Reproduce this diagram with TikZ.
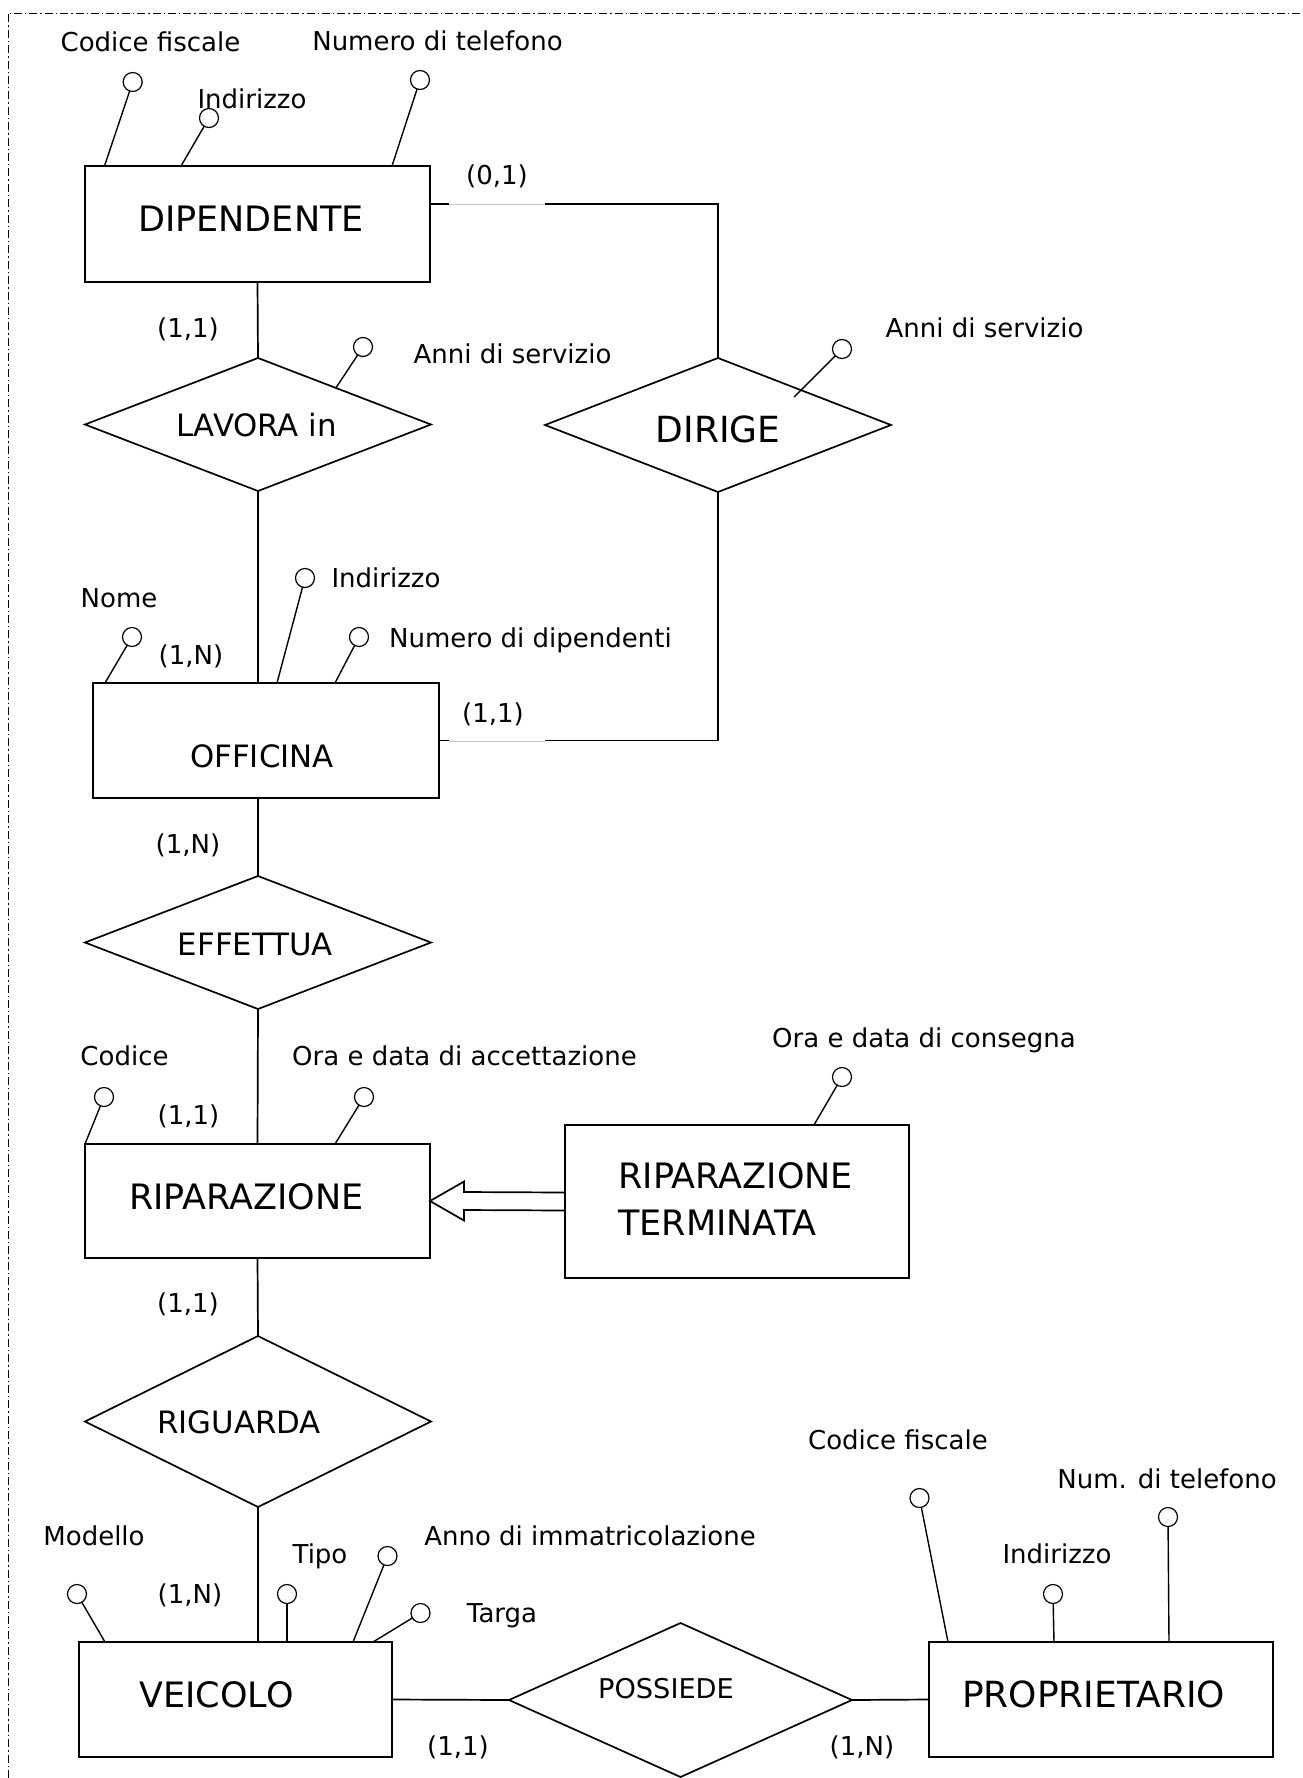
\documentclass[tikz,border=0pt]{standalone}
\usepackage{fontspec}
\setmainfont{DejaVu Sans}
\usetikzlibrary{shapes.geometric,calc}
\newcommand\attrf{\fontsize{13pt}{15pt}\selectfont}
\newcommand\entf{\fontsize{17.5pt}{20pt}\selectfont}
\newcommand\relf{\fontsize{15.4pt}{18pt}\selectfont}
\newcommand\posf{\fontsize{13.6pt}{15pt}\selectfont}
\newcommand\bigentf{\fontsize{18pt}{21pt}\selectfont}
\begin{document}
\begin{tikzpicture}[x=0.5pt,y=-0.5pt,
  ent/.style={draw, line width=0.85pt, rectangle, inner sep=0pt, outer sep=0pt},
  rel/.style={draw, line width=0.85pt, diamond, inner sep=0pt, outer sep=0pt},
  conn/.style={line width=0.85pt},
  attr/.style={draw, circle, line width=0.6pt, minimum size=9.5pt, inner sep=0pt, outer sep=0pt, fill=white},
  aline/.style={line width=0.7pt},
  txt/.style={inner sep=0pt, anchor=base, font=\attrf},
  card/.style={inner sep=0pt, anchor=center, font=\attrf},
  etxt/.style={inner sep=0pt, anchor=base, font=\entf},
  rtxt/.style={inner sep=0pt, anchor=base, font=\relf},
  ghost/.style={black!22, line width=0.5pt}
]
\useasboundingbox (0,0) rectangle (1302,1778);
\draw[line width=0.5pt, dash pattern=on 4pt off 1.5pt on 0.7pt off 1.5pt] (8,1778) -- (8,13) -- (1302,13);

% shapes
\node[ent, minimum width=172.5pt, minimum height=58pt] (dip) at (257.5,224) {};
\node[rel, minimum width=173pt, minimum height=66.5pt] (lav) at (258,424.5) {};
\node[rel, minimum width=173pt, minimum height=67pt] (dir) at (718,425) {};
\node[ent, minimum width=173pt, minimum height=57.5pt] (off) at (266,740.5) {};
\node[rel, minimum width=173pt, minimum height=66.5pt] (eff) at (258,942.5) {};
\node[ent, minimum width=172.5pt, minimum height=57pt] (rip) at (257.5,1201) {};
\node[ent, minimum width=172pt, minimum height=76.5pt] (rt) at (737,1201.5) {};
\node[rel, minimum width=173pt, minimum height=85.5pt] (rig) at (258,1421.5) {};
\node[ent, minimum width=156.5pt, minimum height=57.5pt] (vei) at (235.5,1699.5) {};
\node[rel, minimum width=171.5pt, minimum height=77pt] (pos) at (680.5,1700) {};
\node[ent, minimum width=172pt, minimum height=57.5pt] (prop) at (1101,1699.5) {};

% shape texts
\node[etxt] (tdip) at (251,231.5) {DIPENDENTE};
\node[rtxt] (tlav) at (256.5,436.5) {LAVORA in};
\node[etxt, font=\bigentf] (tdir) at (718,442) {DIRIGE};
\node[rtxt] (toff) at (262,767) {OFFICINA};
\node[rtxt] (teff) at (255.5,955) {EFFETTUA};
\node[etxt] (trip) at (246.5,1209) {RIPARAZIONE};
\node[etxt, anchor=base west] (trt1) at (618,1188) {RIPARAZIONE};
\node[etxt, anchor=base west] (trt2) at (618,1235) {TERMINATA};
\node[rtxt] (trig) at (239,1433) {RIGUARDA};
\node[etxt] (tvei) at (216.5,1707) {VEICOLO};
\node[txt, font=\posf] (tpos) at (666,1698) {POSSIEDE};
\node[etxt, font=\bigentf] (tprop) at (1093.5,1707) {PROPRIETARIO};

% connectors
\draw[conn] (dip.south) -- (lav.north);
\draw[conn] (lav.south) -- (lav.south |- off.north);
\draw[conn] (eff.north) -- (eff.north |- off.south);
\draw[conn] (eff.south) -- (rip.north);
\draw[conn] (rip.south) -- (rig.north);
\draw[conn] (rig.south) -- (rig.south |- vei.north);
\coordinate (dipr) at ($(dip.north east)+(0,38)$);
\draw[conn] (dipr) -| (dir.north);
\draw[conn] (off.east) -| (dir.south);
\draw[white, line width=1.2pt] (449,741) -- (545,741);
\draw[ghost] (449,741) -- (545,741);
\draw[white, line width=1.2pt] (449,204) -- (545,204);
\draw[ghost] (449,204) -- (545,204);
\draw[conn] (vei.east) -- (pos.west);
\draw[conn] (pos.east) -- (prop.west);

% generalisation arrow
\draw[conn] ($(rt.west)+(0,-9)$) -- ($(rip.east)+(34,-9)$) -- ($(rip.east)+(34,-19.5)$) -- (rip.east) -- ($(rip.east)+(34,19.5)$) -- ($(rip.east)+(34,9)$) -- ($(rt.west)+(0,9)$);

% cardinalities
\node[card] (c01) at (497,176) {(0,1)};
\node[card] (c11a) at (188,329) {(1,1)};
\node[card] (c1na) at (191,656) {(1,N)};
\node[card] (c11b) at (493,714) {(1,1)};
\node[card] (c1nb) at (188,845) {(1,N)};
\node[card] (c11c) at (188.5,1116) {(1,1)};
\node[card] (c11d) at (188,1304) {(1,1)};
\node[card] (c1nc) at (190,1595) {(1,N)};
\node[card] (c11e) at (458,1747) {(1,1)};
\node[card] (c1nd) at (862,1747) {(1,N)};

% attributes: DIPENDENTE
\node[attr] (adcf) at (132.7,82) {};
\draw[aline] (adcf) -- ($(dip.north west)+(19.5,0)$);
\node[txt] (tdcf) at (150.5,51) {Codice fiscale};
\node[attr] (adind) at (209,118) {};
\draw[aline] (adind) -- ($(dip.north west)+(96,0)$);
\node[txt] (tdind) at (252,108) {Indirizzo};
\node[attr] (adtel) at (420,80) {};
\draw[aline] (adtel) -- ($(dip.north west)+(307,0)$);
\node[txt] (tdtel) at (437.5,50) {Numero di telefono};

% LAVORA in
\node[attr] (alav) at (363,347) {};
\draw[aline] (alav) -- ($(lav.north)!0.45!(lav.east)$);
\node[txt] (tlavas) at (512.5,363) {Anni di servizio};

% DIRIGE
\node[attr] (adir) at (842,349) {};
\draw[aline] (adir) -- ($(dir.center)+(76,-28)$);
\node[txt] (tdiras) at (984.5,337) {Anni di servizio};

% OFFICINA
\node[attr] (aonome) at (132,637) {};
\draw[aline] (aonome) -- ($(off.north west)+(12,0)$);
\node[txt] (tonome) at (119,607) {Nome};
\node[attr] (aoind) at (305,578) {};
\draw[aline] (aoind) -- ($(off.north west)+(184,0)$);
\node[txt] (toind) at (386,587) {Indirizzo};
\node[attr] (aondip) at (359,637) {};
\draw[aline] (aondip) -- ($(off.north west)+(242,0)$);
\node[txt] (tondip) at (530.5,647) {Numero di dipendenti};

% RIPARAZIONE
\node[attr] (arcod) at (104,1097) {};
\draw[aline] (arcod) -- (rip.north west);
\node[txt] (trcod) at (124.5,1065) {Codice};
\node[attr] (aracc) at (364,1097) {};
\draw[aline] (aracc) -- ($(rip.north west)+(250,0)$);
\node[txt] (tracc) at (464.5,1065) {Ora e data di accettazione};

% RIPARAZIONE TERMINATA
\node[attr] (artc) at (842,1077) {};
\draw[aline] (artc) -- ($(rt.north west)+(249,0)$);
\node[txt] (trtc) at (924,1047) {Ora e data di consegna};

% VEICOLO
\node[attr] (avmod) at (77,1594) {};
\draw[aline] (avmod) -- ($(vei.north west)+(26,0)$);
\node[txt] (tvmod) at (94,1545) {Modello};
\node[attr] (avtipo) at (287,1594) {};
\draw[aline] (avtipo) -- ($(vei.north west)+(208,0)$);
\node[txt] (tvtipo) at (320,1563) {Tipo};
\node[attr] (avanno) at (387.5,1556) {};
\draw[aline] (avanno) -- ($(vei.north west)+(274,0)$);
\node[txt] (tvanno) at (590,1545) {Anno di immatricolazione};
\node[attr] (avtarga) at (420.5,1613) {};
\draw[aline] (avtarga) -- ($(vei.north west)+(294,0)$);
\node[txt] (tvtarga) at (502,1622) {Targa};

% PROPRIETARIO
\node[attr] (apcf) at (919.5,1498) {};
\draw[aline] (apcf) -- ($(prop.north west)+(19,0)$);
\node[txt] (tpcf) at (898,1449) {Codice fiscale};
\node[attr] (apind) at (1053,1594) {};
\draw[aline] (apind) -- ($(prop.north west)+(125,0)$);
\node[txt] (tpind) at (1057,1563) {Indirizzo};
\node[attr] (aptel) at (1168,1517) {};
\draw[aline] (aptel) -- ($(prop.north west)+(240,0)$);
\node[txt] (tptel) at (1167,1488) {Num. di telefono};
\end{tikzpicture}
\end{document}
